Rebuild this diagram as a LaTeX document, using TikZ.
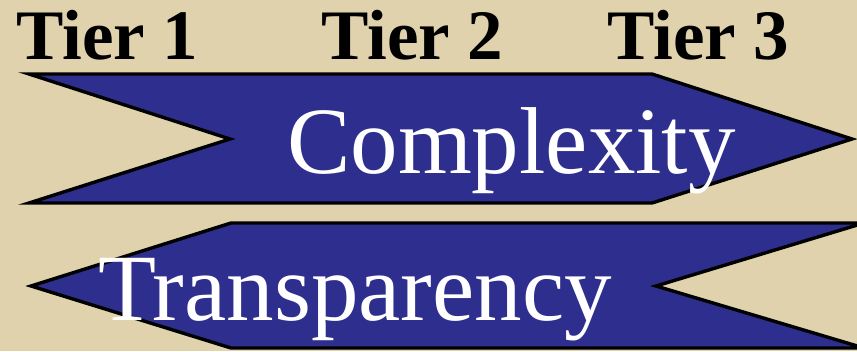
\documentclass[tikz,border=0pt]{standalone}
\usepackage{fontspec}
\setmainfont{Liberation Serif}
\usepackage{tikz}
\usetikzlibrary{positioning}
\definecolor{parchment}{RGB}{224,210,172}
\definecolor{bannerblue}{RGB}{46,46,142}
\tikzset{
  banner/.style={draw=black,line width=3.4pt,line join=miter,fill=bannerblue},
  tierlabel/.style={anchor=base west,inner sep=0pt,text=black,font=\fontsize{71}{85}\selectfont\bfseries},
  bannertext/.style={anchor=base west,inner sep=0pt,text=white,font=\fontsize{95}{114}\selectfont}
}

\begin{document}
\begin{tikzpicture}[x=1pt,y=-1pt]
  \fill[parchment] (0,0) rectangle (857,351);
  \useasboundingbox (0,0) rectangle (857,351);
  % banner pointing right
  \draw[banner] (29,74) -- (652,74) -- (852,139) -- (652,203) -- (29,203) -- (230,139) -- cycle;
  % banner pointing left
  \draw[banner] (31,286) -- (231,223) -- (864,223) -- (656,286) -- (864,348) -- (231,348) -- cycle;
  \node[tierlabel] (tier1) at (16,59) {Tier 1};
  \node[tierlabel] (tier2) at (321,59) {Tier 2};
  \node[tierlabel] (tier3) at (607,59) {Tier 3};
  \node[bannertext] (complexity) at (287,173) {Complexity};
  \node[bannertext] (transparency) at (98,320) {Transparency};
\end{tikzpicture}
\end{document}
